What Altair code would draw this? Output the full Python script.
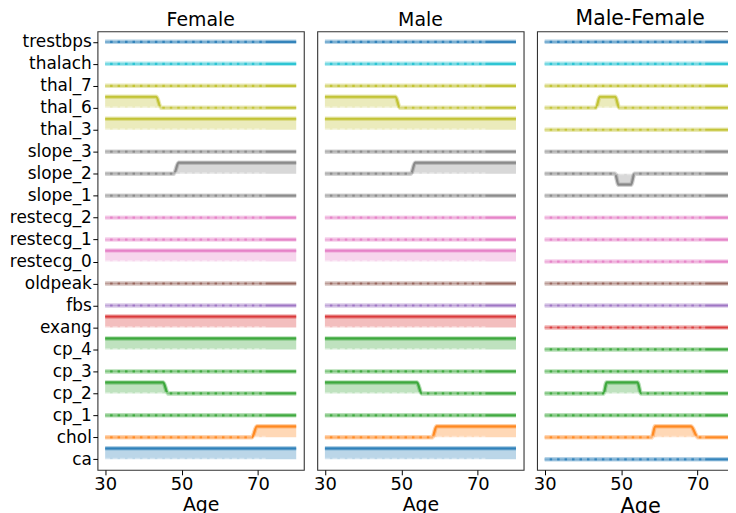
import json
import altair as alt
import pandas as pd

# rows from bottom (0) to top (19)
features = ["ca", "chol", "cp_1", "cp_2", "cp_3", "cp_4", "exang", "fbs", "oldpeak",
            "restecg_0", "restecg_1", "restecg_2", "slope_1", "slope_2", "slope_3",
            "thal_3", "thal_6", "thal_7", "thalach", "trestbps"]
feature_colors = ["#1f77b4", "#ff7f0e", "#2ca02c", "#2ca02c", "#2ca02c", "#2ca02c",
                  "#d62728", "#9467bd", "#8c564b", "#e377c2", "#e377c2", "#e377c2",
                  "#7f7f7f", "#7f7f7f", "#7f7f7f", "#bcbd22", "#bcbd22", "#bcbd22",
                  "#17becf", "#1f77b4"]

panels = ["Female", "Male", "Male-Female"]

flat_age = [30, 80]
flat_zero = [0, 0]
flat_one = [1, 1]

# (ages, levels) breakpoints per panel and feature; features not listed stay flat at 0
female = {
    "thal_6": ([30, 43.4, 44.6, 80], [1, 1, 0, 0]),
    "thal_3": (flat_age, flat_one),
    "slope_2": ([30, 48.0, 49.2, 80], [0, 0, 1, 1]),
    "restecg_0": (flat_age, flat_one),
    "exang": (flat_age, flat_one),
    "cp_4": (flat_age, flat_one),
    "cp_2": ([30, 45.2, 46.4, 80], [1, 1, 0, 0]),
    "chol": ([30, 68.4, 69.7, 80], [0, 0, 1, 1]),
    "ca": (flat_age, flat_one),
}
male = {
    "thal_6": ([30, 48.5, 49.6, 80], [1, 1, 0, 0]),
    "thal_3": (flat_age, flat_one),
    "slope_2": ([30, 52.5, 53.6, 80], [0, 0, 1, 1]),
    "restecg_0": (flat_age, flat_one),
    "exang": (flat_age, flat_one),
    "cp_4": (flat_age, flat_one),
    "cp_2": ([30, 54.1, 55.3, 80], [1, 1, 0, 0]),
    "chol": ([30, 58.1, 59.2, 80], [0, 0, 1, 1]),
    "ca": (flat_age, flat_one),
}
male_minus_female = {
    "thal_6": ([30, 43.4, 44.4, 48.5, 49.5, 80], [0, 0, 1, 1, 0, 0]),
    "slope_2": ([30, 48.4, 49.3, 52.6, 53.5, 80], [0, 0, -1, -1, 0, 0]),
    "cp_2": ([30, 45.4, 46.2, 54.3, 55.2, 80], [0, 0, 1, 1, 0, 0]),
    "chol": ([30, 58.0, 58.9, 68.3, 70.1, 80], [0, 0, 1, 1, 0, 0]),
}
panel_data = {"Female": female, "Male": male, "Male-Female": male_minus_female}

# the zero baselines look dotted from age 30 to about 72
dotted_start = 30
dotted_end = 72

records = []
for p in panels:
    d = panel_data[p]
    for i, f in enumerate(features):
        ages, levels = d.get(f, (flat_age, flat_zero))
        for a, l in zip(ages, levels):
            records.append({"panel": p, "feature": f, "row": i, "age": a, "top": i + 0.5 * l})
df = pd.DataFrame(records)

base_df = pd.DataFrame({"feature": features, "row": list(range(len(features))),
                        "start": dotted_start, "end": dotted_end})

label_expr = json.dumps(features) + "[datum.value]"
FONT = "DejaVu Sans"


def make_panel(name, first, title_size, xtitle_size):
    sub = df[df.panel == name]
    base = alt.Chart(sub)
    xscale = alt.Scale(domain=[28, 82], nice=False, zero=False)
    yscale = alt.Scale(domain=[-0.48, 19.48], nice=False, zero=False)
    xaxis = alt.Axis(values=[30, 50, 70], title="Age", titleFontSize=xtitle_size,
                     labelFontSize=18, tickSize=5, labelPadding=1, titlePadding=2,
                     grid=False, domain=False, format="d")
    x = alt.X("age:Q", scale=xscale, axis=xaxis)
    if first:
        yaxis = alt.Axis(values=list(range(len(features))), labelExpr=label_expr,
                         labelFontSize=17, tickSize=4.7, labelPadding=1.5, grid=False,
                         domain=False, title=None, labelOverlap=False)
    else:
        yaxis = None
    y = alt.Y("top:Q", scale=yscale, axis=yaxis, stack=None)
    color = alt.Color("feature:N", scale=alt.Scale(domain=features, range=feature_colors),
                      legend=None)
    area = base.mark_area(opacity=0.3, interpolate="monotone").encode(
        x=x, y=y, y2="row:Q", color=color, detail="feature:N")
    halo = base.mark_line(opacity=0.35, strokeWidth=4.5, interpolate="monotone").encode(
        x=x, y=y, color=color, detail="feature:N")
    line = base.mark_line(opacity=0.85, strokeWidth=2.2, interpolate="monotone").encode(
        x=x, y=y, color=color, detail="feature:N")
    dots = alt.Chart(base_df).mark_rule(
        color="white", opacity=0.35, strokeWidth=3, strokeDash=[5, 2.5]
    ).encode(x=alt.X("start:Q", scale=xscale, axis=xaxis), x2="end:Q",
             y=alt.Y("row:Q", scale=yscale, axis=yaxis))
    return alt.layer(area, halo, line, dots).properties(
        width=207.5, height=441,
        title=alt.TitleParams(name, fontSize=title_size, font=FONT, fontWeight="normal",
                              color="black", baseline="bottom", offset=-18))


chart = alt.hconcat(
    make_panel("Female", True, 19, 19),
    make_panel("Male", False, 19, 19),
    make_panel("Male-Female", False, 20.5, 21),
    spacing=13, bounds="flush",
).properties(
    padding={"left": 0, "top": -2, "right": -18, "bottom": 0},
    background="white",
).configure_view(
    stroke="#333333", strokeWidth=1.1
).configure_axis(
    labelFont=FONT, titleFont=FONT, labelColor="black", titleColor="black",
    tickColor="black", titleFontWeight="normal"
)

chart.save("out.html", embed_options={"renderer": "svg", "actions": False})
